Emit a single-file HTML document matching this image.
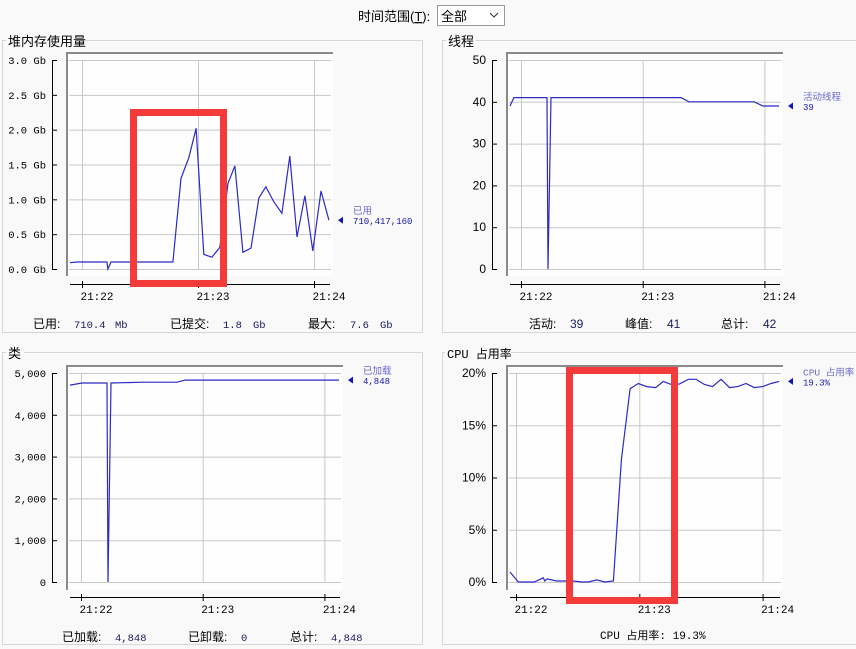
<!DOCTYPE html>
<html><head><meta charset="utf-8">
<style>
html,body{margin:0;padding:0;background:#f9f9f9;}
svg{display:block;font-family:"Liberation Mono","Noto Sans CJK SC",monospace;}
.sans{font-family:"Liberation Sans","Noto Sans CJK SC",sans-serif;}
</style></head>
<body>
<svg id="root" width="856" height="649" viewBox="0 0 856 649" xmlns="http://www.w3.org/2000/svg">
  <rect x="0" y="0" width="856" height="649" fill="#f9f9f9"/>
  <text x="358" y="21" font-size="13" class="sans" fill="#000">时间范围(<tspan text-decoration="underline">T</tspan>):</text>
  <g>
    <rect x="437.5" y="5.5" width="67" height="20" fill="#fff" stroke="#999"/>
    <text x="441" y="21" font-size="13" class="sans" fill="#000">全部</text>
    <path d="M490 13 L494 17 L498 13" fill="none" stroke="#333" stroke-width="1"/>
  </g>
  <g>
    <rect x="2.5" y="40.5" width="420" height="292" fill="none" stroke="#d6d6d6"/>
    <rect x="6" y="33" width="76" height="14" fill="#f9f9f9"/>
    <text x="8" y="46" font-size="13" class="sans" fill="#000">堆内存使用量</text>
  </g>
  <g>
    <rect x="442.5" y="40.5" width="420" height="292" fill="none" stroke="#d6d6d6"/>
    <rect x="446" y="33" width="30" height="14" fill="#f9f9f9"/>
    <text x="448" y="46" font-size="13" class="sans" fill="#000">线程</text>
  </g>
  <g>
    <rect x="2.5" y="352.5" width="420" height="292" fill="none" stroke="#d6d6d6"/>
    <rect x="6" y="345" width="18" height="14" fill="#f9f9f9"/>
    <text x="8" y="358" font-size="13" class="sans" fill="#000">类</text>
  </g>
  <g>
    <rect x="442.5" y="352.5" width="420" height="292" fill="none" stroke="#d6d6d6"/>
    <rect x="445" y="345" width="66" height="14" fill="#f9f9f9"/>
    <text x="447" y="358" font-size="12" fill="#000">CPU 占用率</text>
  </g>
  <g id="charts"></g>
  <g font-size="12">
    <text x="33" y="328" class="sans">已用:</text><text x="74" y="328" font-size="10.5" fill="#1a1a60">710.4</text><text x="115" y="328" font-size="10.5" fill="#1a1a60">Mb</text>
    <text x="170" y="328" class="sans">已提交:</text><text x="223" y="328" font-size="10.5" fill="#1a1a60">1.8</text><text x="253" y="328" font-size="10.5" fill="#1a1a60">Gb</text>
    <text x="308" y="328" class="sans">最大:</text><text x="350" y="328" font-size="10.5" fill="#1a1a60">7.6</text><text x="380" y="328" font-size="10.5" fill="#1a1a60">Gb</text>
  </g>
  <g font-size="12" class="sans">
    <text x="529" y="328">活动:</text><text x="570" y="328" fill="#1a1a60">39</text>
    <text x="625" y="328">峰值:</text><text x="667" y="328" fill="#1a1a60">41</text>
    <text x="721" y="328">总计:</text><text x="763" y="328" fill="#1a1a60">42</text>
  </g>
  <g font-size="12">
    <text x="62" y="641" class="sans">已加载:</text><text x="115" y="641" font-size="10.5" fill="#1a1a60">4,848</text>
    <text x="188" y="641" class="sans">已卸载:</text><text x="241" y="641" font-size="10.5" fill="#1a1a60">0</text>
    <text x="290" y="641" class="sans">总计:</text><text x="331" y="641" font-size="10.5" fill="#1a1a60">4,848</text>
  </g>
  <text x="600" y="639" font-size="11">CPU 占用率: 19.3%</text>
  <g id="highlights"></g>
</svg>
<script>
// ---- chart data (time in seconds after 21:22:00) ----
const xTickSeconds = [0, 60, 120];
const xTickLabels = ["21:22", "21:23", "21:24"];

const heapTimes = [-6.2,-2.6,12.9,13.4,15,47,51.2,55.3,59,63,67.2,71.3,75.5,79.1,83.2,87.4,91.5,95.1,99.3,103.4,107.5,111.2,115.3,119.4,123.6,127.7];
const heapValues = [0.09,0.1,0.1,0,0.1,0.1,1.3,1.6,2.02,0.21,0.17,0.31,1.23,1.48,0.24,0.3,1.02,1.18,0.96,0.8,1.62,0.46,1.05,0.26,1.12,0.7];
const heapTicks = [0,0.5,1,1.5,2,2.5,3];
const heapTickLabels = ["0.0 Gb","0.5 Gb","1.0 Gb","1.5 Gb","2.0 Gb","2.5 Gb","3.0 Gb"];

const threadTimes = [-5.4,-3.5,12.8,13.3,14.8,78.9,82.8,114.9,119.3,127.2];
const threadValues = [39,41,41,0,41,41,40,40,39,39];
const threadTicks = [0,10,20,30,40,50];
const threadTickLabels = ["0","10","20","30","40","50"];

const classTimes = [-5.4,0.5,12.8,13.3,14.8,30.6,47.3,51.3,127.2];
const classValues = [4710,4760,4760,0,4760,4780,4780,4830,4830];
const classTicks = [0,1000,2000,3000,4000,5000];
const classTickLabels = ["0","1,000","2,000","3,000","4,000","5,000"];

const cpuTimes = [-2.9,1.1,8.9,13.3,14.0,15.2,19.8,27.9,32.0,35.2,39.3,43.3,47.4,51.3,55.5,59.5,63.6,68.0,71.7,75.6,79.5,83.9,87.6,91.7,95.6,99.8,103.9,107.9,111.9,116.0,120.1,124.1,128.1];
const cpuValues = [0.96,0,0,0.4,0.1,0.3,0.1,0.1,0,0,0.2,0,0.1,11.7,18.5,19.0,18.7,18.6,19.2,18.9,18.95,19.4,19.4,18.9,18.7,19.4,18.6,18.7,19.0,18.6,18.7,19.0,19.2];
const cpuTicks = [0,5,10,15,20];
const cpuTickLabels = ["0%","5%","10%","15%","20%"];

const NS = "http://www.w3.org/2000/svg";
const root = document.getElementById("charts");
function mk(tag, attrs, parent) {
  const e = document.createElementNS(NS, tag);
  for (const k in attrs) e.setAttribute(k, attrs[k]);
  (parent || root).appendChild(e);
  return e;
}

function drawChart(cfg) {
  const g = mk("g", {});
  
  
  const ymax = cfg.ticks[cfg.ticks.length - 1];
  const yS = v => cfg.yBot - (v / ymax) * (cfg.yBot - cfg.yTop);
  const xS = t => cfg.t0 + t * cfg.ppm / 60;
  mk("rect", {x: cfg.x0, y: cfg.y0, width: cfg.x1 - cfg.x0, height: cfg.y1 - cfg.y0, fill: "#fefefe"}, g);
  mk("path", {d: `M${cfg.x0+1} ${cfg.y1} V${cfg.y0+1} H${cfg.x1}`, fill: "none", stroke: "#8a8a8a", "stroke-width": 2}, g);
  cfg.ticks.forEach(v => {
    const l = mk("line", {x1: cfg.x0 + 3, x2: cfg.x1 - 2, y1: yS(v) + 0.5, y2: yS(v) + 0.5, stroke: "#c8c8c8"}, g);
    
    
  });
  xTickSeconds.forEach(t => {
    const l = mk("line", {x1: xS(t) + 0.5, x2: xS(t) + 0.5, y1: cfg.yTop, y2: cfg.yBot, stroke: "#c8c8c8"}, g);
    
    
  });
  const ya = mk("line", {x1: cfg.axX + 0.5, x2: cfg.axX + 0.5, y1: cfg.yTop, y2: cfg.yBot, stroke: "#000"}, g);
  
  
  cfg.ticks.forEach((v, i) => {
    mk("line", {x1: cfg.axX, x2: cfg.axX + 5, y1: yS(v) + 0.5, y2: yS(v) + 0.5, stroke: "#000"}, g);
    const tx = mk("text", {x: cfg.axX - 6, y: yS(v) + 4, "font-size": cfg.sansY ? 12 : 10.5, "text-anchor": "end", fill: "#000", class: cfg.sansY ? "sans" : ""}, g);
    tx.textContent = cfg.labels[i];
    
    
  });
  const xa = mk("line", {x1: cfg.x0 + 4, x2: cfg.x1 - 3, y1: cfg.xAxY + 0.5, y2: cfg.xAxY + 0.5, stroke: "#000"}, g);
  
  
  xTickSeconds.forEach((t, i) => {
    mk("line", {x1: xS(t) + 0.5, x2: xS(t) + 0.5, y1: cfg.xAxY - 3, y2: cfg.xAxY + 4, stroke: "#000"}, g);
    const tx = mk("text", {x: xS(t) + 15, y: cfg.xAxY + 16, "font-size": 11, "text-anchor": "middle", fill: "#000"}, g);
    tx.textContent = xTickLabels[i];
    
    
  });
  const pts = cfg.times.map((t, i) => `${xS(t).toFixed(1)},${yS(cfg.values[i]).toFixed(1)}`).join(" ");
  const pl = mk("polyline", {points: pts, fill: "none", stroke: "#2a2ac8", "stroke-width": 1.2}, g);
  
  
  const lastY = yS(cfg.values[cfg.values.length - 1]);
  const lg = mk("g", {}, g);
  
  
  mk("path", {d: `M${cfg.x1 + 5} ${lastY} l5 -3.5 v7 z`, fill: "#1515b0"}, lg);
  const n = mk("text", {x: cfg.x1 + 20, y: lastY - 6, "font-size": 9.5, fill: "#6a6ad0"}, lg);
  n.textContent = cfg.legName;
  const v = mk("text", {x: cfg.x1 + 20, y: lastY + 4, "font-size": 9, fill: "#1515b0"}, lg);
  v.textContent = cfg.legVal;
}

drawChart({name: "heap-chart", x0: 66, y0: 52, x1: 333, y1: 276, yTop: 60, yBot: 269, t0: 82, ppm: 116, axX: 52, xAxY: 284,
  ticks: heapTicks, labels: heapTickLabels, times: heapTimes, values: heapValues, legName: "已用", legVal: "710,417,160"});
drawChart({name: "threads-chart", x0: 506, y0: 52, x1: 783, y1: 276, yTop: 60, yBot: 269, t0: 521, ppm: 121.7, axX: 492, xAxY: 284, sansY: true,
  ticks: threadTicks, labels: threadTickLabels, times: threadTimes, values: threadValues, legName: "活动线程", legVal: "39"});
drawChart({name: "classes-chart", x0: 66, y0: 365, x1: 343, y1: 590, yTop: 373, yBot: 582, t0: 81, ppm: 121.7, axX: 52, xAxY: 597,
  ticks: classTicks, labels: classTickLabels, times: classTimes, values: classValues, legName: "已加载", legVal: "4,848"});
drawChart({name: "cpu-chart", x0: 506, y0: 365, x1: 783, y1: 590, yTop: 373, yBot: 582, t0: 516, ppm: 123.3, axX: 492, xAxY: 597, sansY: true,
  ticks: cpuTicks, labels: cpuTickLabels, times: cpuTimes, values: cpuValues, legName: "CPU 占用率", legVal: "19.3%"});

const hl = document.getElementById("highlights");
const r1 = mk("rect", {x: 133.5, y: 112.5, width: 90, height: 171, fill: "none", stroke: "#f53a3a", "stroke-width": 7}, hl);


const r2 = mk("rect", {x: 569.5, y: 370.5, width: 105, height: 230, fill: "none", stroke: "#f53a3a", "stroke-width": 7}, hl);


</script>
</body></html>
